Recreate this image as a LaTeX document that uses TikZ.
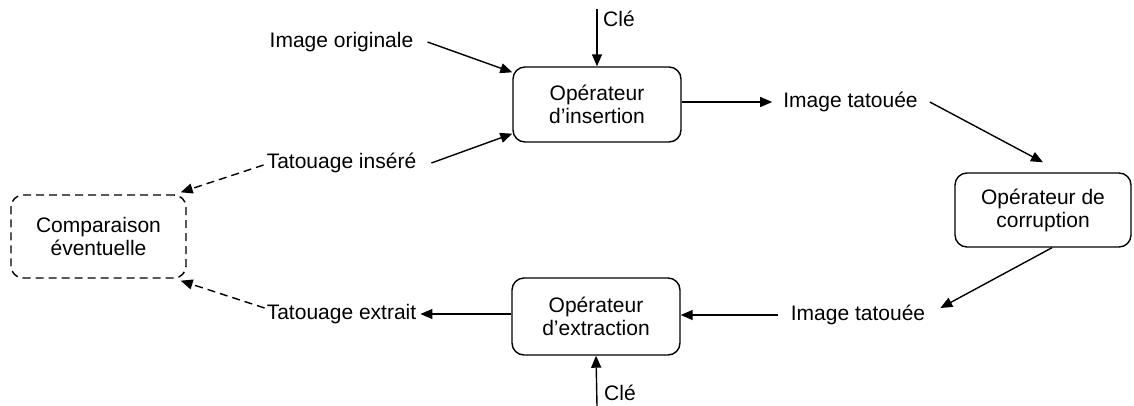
\documentclass[tikz,border=0pt]{standalone}
\usepackage{fontspec}
\setmainfont{Liberation Sans}
\usetikzlibrary{arrows.meta,calc}
\begin{document}
\begin{tikzpicture}[x=1pt,y=-1pt,
  font=\fontsize{21}{23}\selectfont,
  box/.style={draw,line width=1.4pt,rounded corners=12pt,align=center,inner sep=0pt},
  lbl/.style={inner sep=0pt},
  arr/.style={line width=1.4pt,-{Triangle[length=12pt,width=10pt]}},
  dsh/.style={arr,dash pattern=on 8pt off 5pt}]
\useasboundingbox (0,0) rectangle (1134,405);

% boxes
\node[box,minimum width=168pt,minimum height=75pt] (ins) at (597,104.5) {Opérateur\\d’insertion};
\node[box,minimum width=176pt,minimum height=74pt] (cor) at (1043,210) {Opérateur de\\corruption};
\node[box,minimum width=168pt,minimum height=77pt] (ext) at (596,316.5) {Opérateur\\d’extraction};
\node[box,dash pattern=on 8pt off 5pt,minimum width=175pt,minimum height=83pt] (cmp) at (98.5,236.5) {Comparaison\\éventuelle};

% labels
\node[lbl] (orig) at (341.5,42) {Image originale};
\node[lbl] (tins) at (341.5,163) {Tatouage inséré};
\node[lbl] (it1) at (850.5,102) {Image tatouée};
\node[lbl] (it2) at (858,315) {Image tatouée};
\node[lbl] (text) at (341.5,314) {Tatouage extrait};
\node[lbl,anchor=west] (cle1) at (603,19) {Clé};
\node[lbl,anchor=west] (cle2) at (604,393) {Clé};
\coordinate (k1) at (597,9);
\coordinate (k2) at (597,406);

% connectors
\draw[arr] (k1) -- (ins.north);
\draw[arr] ([xshift=14pt]orig.east) -- ($(ins.north west)+(0,6)$);
\draw[arr] ([xshift=15pt]tins.east) -- ($(ins.south west)+(0,-9)$);
\draw[arr] (ins.east |- it1.west) -- ([xshift=-11pt]it1.west);
\draw[arr] ([xshift=12pt]it1.east) -- ($(cor.north)+(0,-10)$);
\draw[arr] ($(cor.south)+(9,0)$) -- ($(it2.east)+(15,-7)$);
\draw[arr] ([xshift=-13pt]it2.west) -- (ext.east |- it2.west);
\draw[arr] (k2) -- (ext.south);
\draw[arr] (ext.west |- text.east) -- ([xshift=4pt]text.east);
\draw[dsh] ($(tins.west)+(-3,2)$) -- ($(cmp.north east)+(-6,-2)$);
\draw[dsh] ($(text.west)+(-2,-6)$) -- ($(cmp.south east)+(-6,2)$);
\end{tikzpicture}
\end{document}
